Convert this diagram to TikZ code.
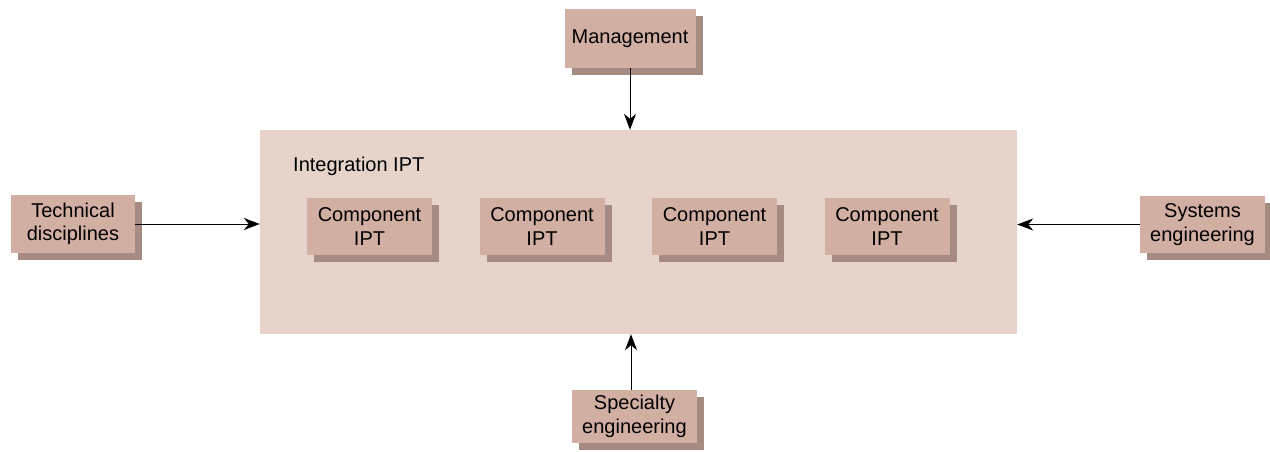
\documentclass[tikz,border=0pt]{standalone}
\usepackage{fontspec}
\setmainfont{Liberation Sans}
\usetikzlibrary{arrows.meta,shadows}
\definecolor{boxfill}{HTML}{D2AFA3}
\definecolor{shadowcol}{HTML}{A68B82}
\definecolor{bigfill}{HTML}{E6D4CA}
\tikzset{
  txt/.style={font=\fontsize{20}{23.5}\selectfont},
  unit/.style={txt, fill=boxfill, draw=none, align=center, inner sep=0pt,
    drop shadow={shadow xshift=7pt, shadow yshift=-7pt, fill=shadowcol, opacity=1}},
  conn/.style={-{Stealth[length=16pt,width=12pt,inset=5pt]}, line width=1pt}
}
\begin{document}
\begin{tikzpicture}[x=1pt,y=-1pt]
\useasboundingbox (0,0) rectangle (1270,451);
\node[fill=bigfill, minimum width=757pt, minimum height=204pt, inner sep=0pt] (ipt) at (638.5,232) {};
\node[txt, anchor=west, inner sep=0pt] (itext) at (293,166) {Integration IPT};
\node[unit, minimum width=131pt, minimum height=59pt] (mgmt) at (630,38.5) {Management};
\node[unit, minimum width=124pt, minimum height=58pt] (tech) at (73,224) {Technical\\disciplines};
\node[unit, minimum width=125pt, minimum height=57pt] (sys) at (1202.5,224.5) {Systems\\engineering};
\node[unit, minimum width=125pt, minimum height=53pt] (spec) at (634.5,416.5) {Specialty\\engineering};
\node[unit, minimum width=125pt, minimum height=57pt] (c1) at (369.5,226.5) {Component\\IPT};
\node[unit, minimum width=125pt, minimum height=57pt] (c2) at (542,226.5) {Component\\IPT};
\node[unit, minimum width=125pt, minimum height=57pt] (c3) at (714.5,226.5) {Component\\IPT};
\node[unit, minimum width=125pt, minimum height=57pt] (c4) at (887,226.5) {Component\\IPT};
\draw[conn] (mgmt.south) -- (mgmt.south |- ipt.north);
\draw[conn] (tech.east) -- (tech.east -| ipt.west);
\draw[conn] (sys.west) -- (sys.west -| ipt.east);
\draw[conn] (spec.north -| 631,0) -- (631,0 |- ipt.south);
\end{tikzpicture}
\end{document}
